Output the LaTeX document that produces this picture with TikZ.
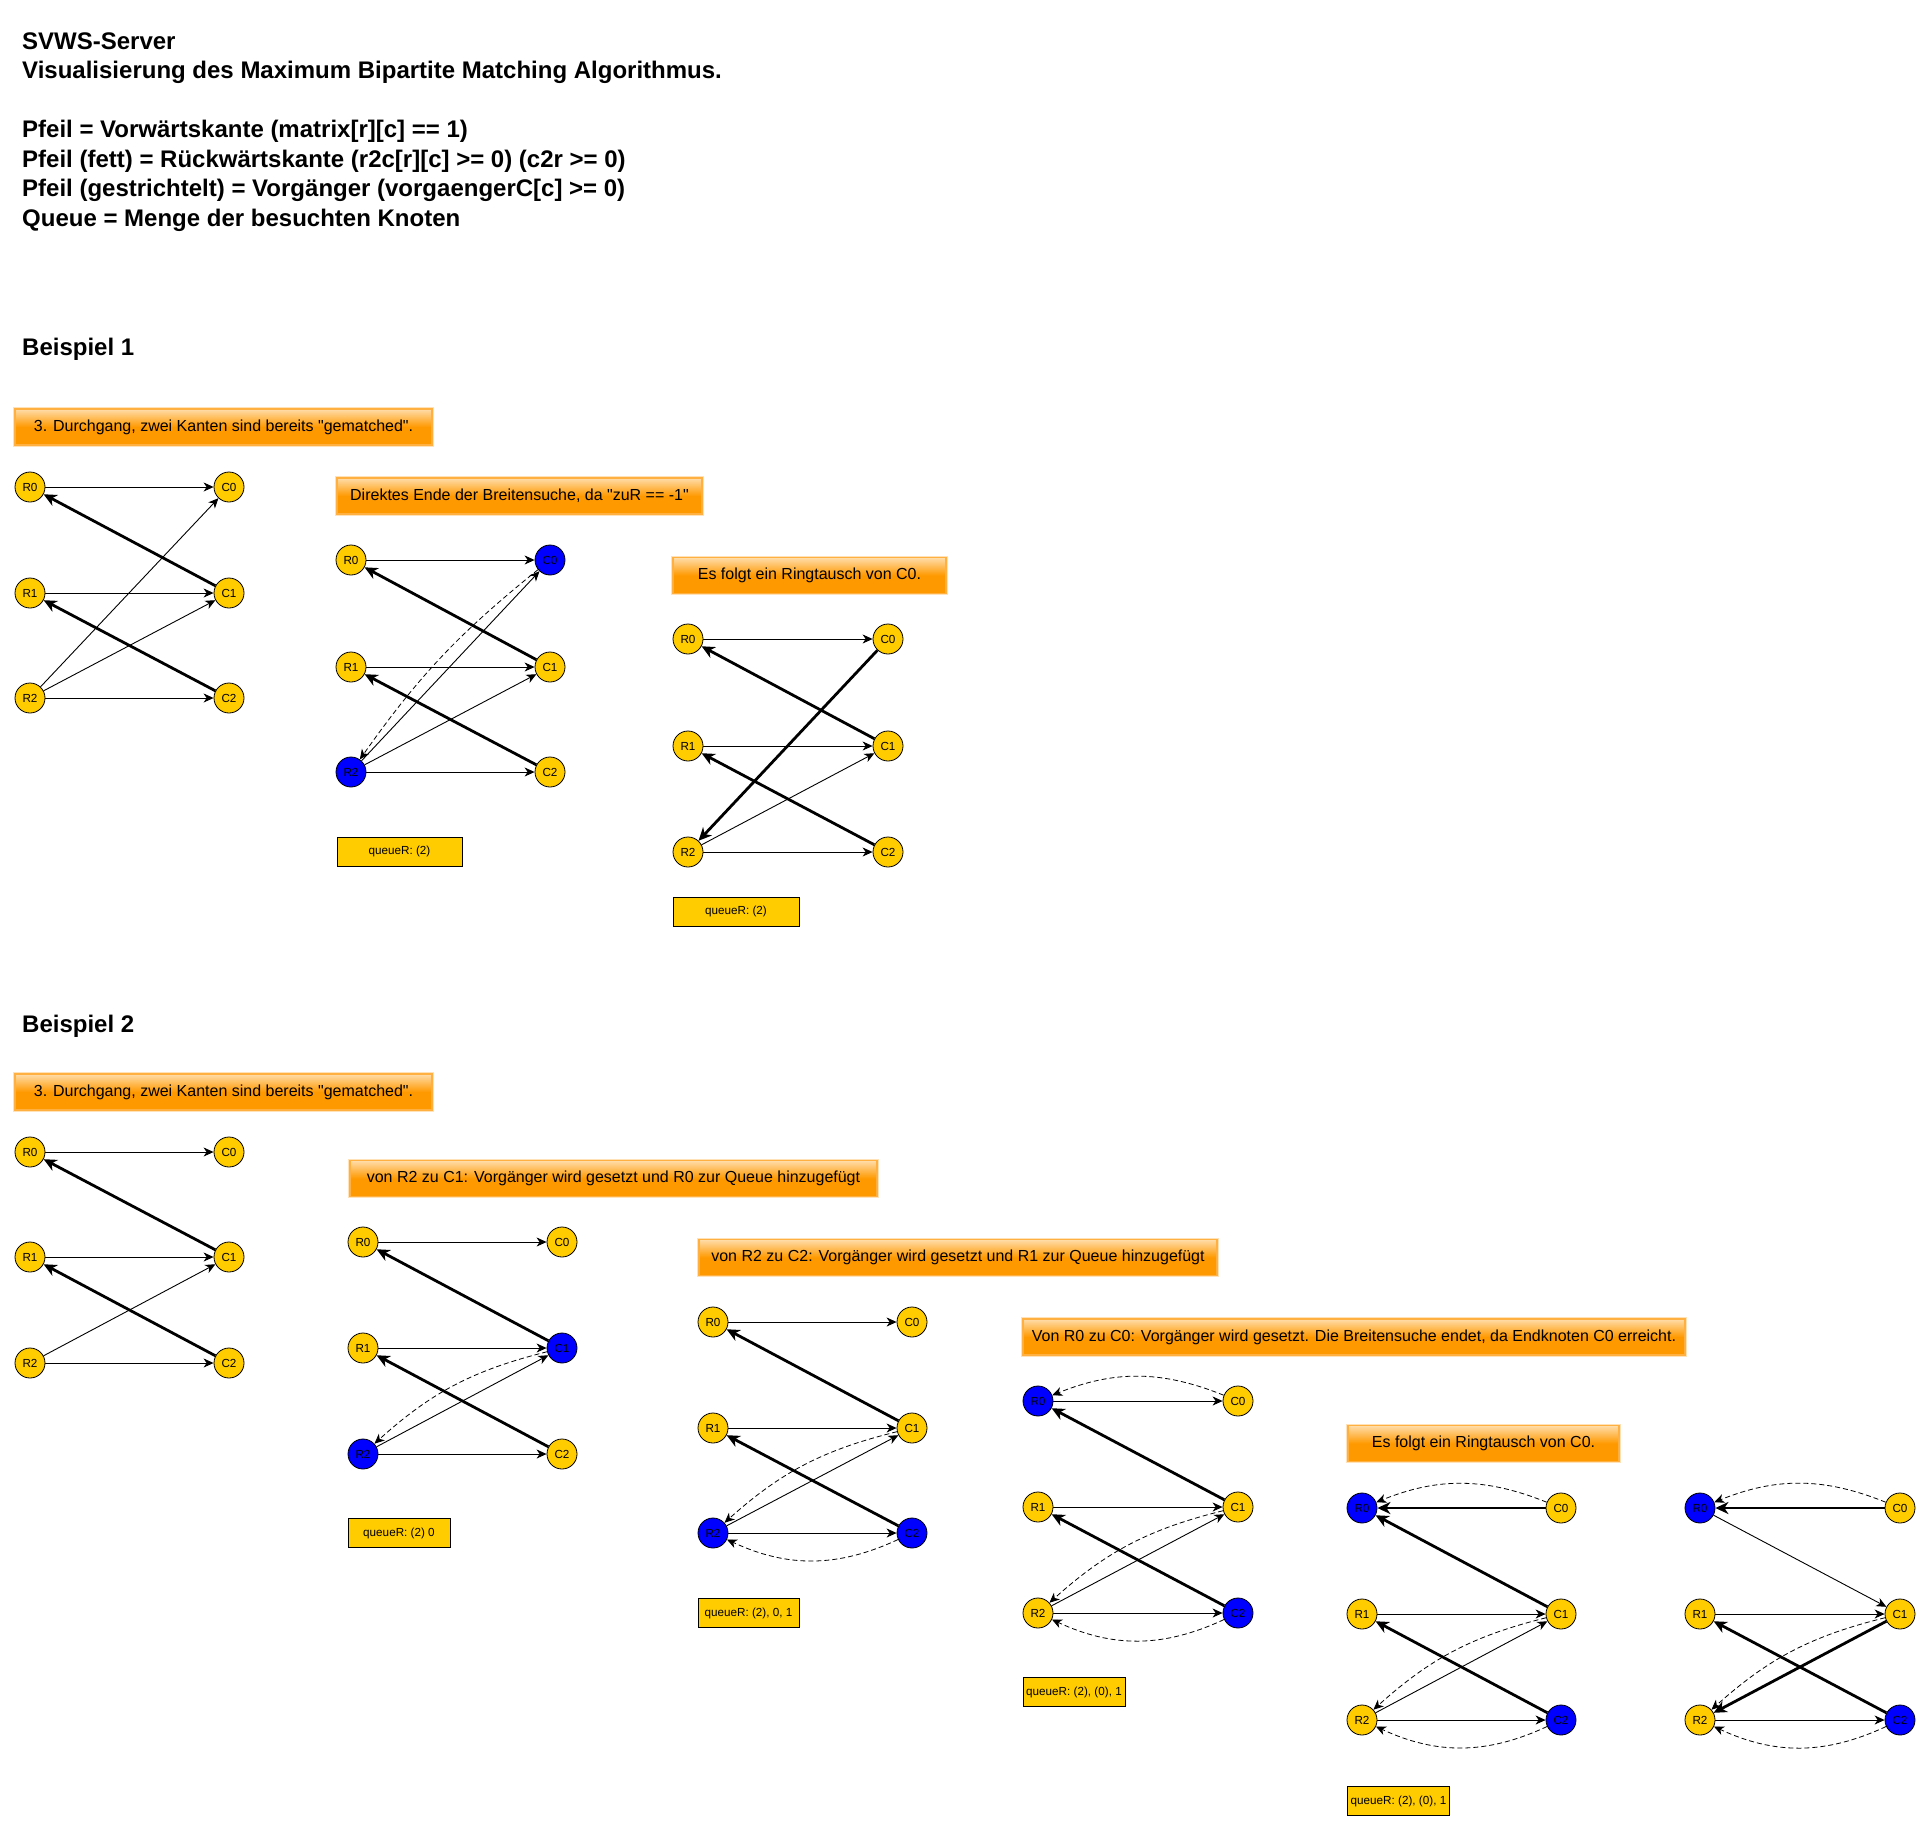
\documentclass[tikz,border=0pt]{standalone}
\usepackage{fontspec}
\setmainfont{Liberation Sans}[Ligatures=TeXOff]
\usetikzlibrary{arrows.meta}
\definecolor{gold}{HTML}{FFCC00}
\definecolor{hitblue}{HTML}{0000FF}
\definecolor{bannertop}{HTML}{FFDDAA}
\definecolor{bannerbot}{HTML}{FF9900}
\definecolor{bannerline}{HTML}{FFB040}
\definecolor{bannerglow}{HTML}{FFE2B8}
\begin{document}
\begin{tikzpicture}[x=1pt,y=-1pt,>={Stealth[length=10pt,width=9pt,inset=3pt]},
  vtx/.style={circle,draw,line width=0.8pt,fill=gold,minimum size=30pt,inner sep=0pt,font=\fontsize{11.7}{12}\selectfont},
  hit/.style={vtx,fill=hitblue},
  fw/.style={->,line width=0.9pt},
  bw/.style={-{Stealth[length=13pt,width=12pt,inset=4pt]},line width=2.8pt},
  pre/.style={->,line width=0.8pt,dash pattern=on 5pt off 3pt},
  banner/.style={preaction={draw=bannerglow,line width=3.5pt},draw=bannerline,line width=1.2pt,top color=bannertop,bottom color=bannerbot,middle color=bannerbot,minimum height=36pt,inner sep=0pt,font=\fontsize{16}{16}\selectfont},
  queue/.style={draw,line width=1pt,fill=gold,minimum height=29pt,inner sep=0pt,font=\fontsize{11.7}{12}\selectfont},
  title/.style={anchor=base west,inner sep=0pt,font=\fontsize{24}{29.5}\selectfont\bfseries}]
\useasboundingbox (0,0) rectangle (1928,1829);
% Kopf (Grundlinie der letzten Zeile)
\node (kopf) at (22,226) [title,align=left] {SVWS-Server\\Visualisierung des Maximum Bipartite Matching Algorithmus.\\[29.5pt]Pfeil = Vorwärtskante (matrix[r][c] == 1)\\Pfeil (fett) = Rückwärtskante (r2c[r][c] >= 0) (c2r >= 0)\\Pfeil (gestrichtelt) = Vorgänger (vorgaengerC[c] >= 0)\\Queue = Menge der besuchten Knoten};

% Beispiel 1
\node (bsp1) at (22,355) [title] {Beispiel 1};

\node (b1a-text) at (223.5,427) [banner,minimum width=417pt] {3. Durchgang, zwei Kanten sind bereits "gematched".};
\node (b1a-R0) at (30,487) [vtx] {R0}; \node (b1a-C0) at (229,487) [vtx] {C0};
\node (b1a-R1) at (30,593) [vtx] {R1}; \node (b1a-C1) at (229,593) [vtx] {C1};
\node (b1a-R2) at (30,698) [vtx] {R2}; \node (b1a-C2) at (229,698) [vtx] {C2};
\draw[fw] (b1a-R0) -- (b1a-C0);
\draw[bw] (b1a-C1) -- (b1a-R0);
\draw[fw] (b1a-R1) -- (b1a-C1);
\draw[bw] (b1a-C2) -- (b1a-R1);
\draw[fw] (b1a-R2) -- (b1a-C0);
\draw[fw] (b1a-R2) -- (b1a-C1);
\draw[fw] (b1a-R2) -- (b1a-C2);

\node (b1b-text) at (519.5,496) [banner,minimum width=365pt] {Direktes Ende der Breitensuche, da "zuR == -1"};
\node (b1b-R0) at (351,560) [vtx] {R0}; \node (b1b-C0) at (550,560) [hit] {C0};
\node (b1b-R1) at (351,667) [vtx] {R1}; \node (b1b-C1) at (550,667) [vtx] {C1};
\node (b1b-R2) at (351,772) [hit] {R2}; \node (b1b-C2) at (550,772) [vtx] {C2};
\draw[fw] (b1b-R0) -- (b1b-C0);
\draw[bw] (b1b-C1) -- (b1b-R0);
\draw[fw] (b1b-R1) -- (b1b-C1);
\draw[bw] (b1b-C2) -- (b1b-R1);
\draw[fw] (b1b-R2) -- (b1b-C0);
\draw[fw] (b1b-R2) -- (b1b-C1);
\draw[fw] (b1b-R2) -- (b1b-C2);
\draw[pre] (b1b-C0) to[bend right=8] (b1b-R2);
\node (b1b-queue) at (399.5,851.5) [queue,minimum width=125pt] {queueR: (2)};

\node (b1c-text) at (809.5,575.5) [banner,minimum width=273pt] {Es folgt ein Ringtausch von C0.};
\node (b1c-R0) at (688,639) [vtx] {R0}; \node (b1c-C0) at (888,639) [vtx] {C0};
\node (b1c-R1) at (688,746) [vtx] {R1}; \node (b1c-C1) at (888,746) [vtx] {C1};
\node (b1c-R2) at (688,852) [vtx] {R2}; \node (b1c-C2) at (888,852) [vtx] {C2};
\draw[fw] (b1c-R0) -- (b1c-C0);
\draw[bw] (b1c-C1) -- (b1c-R0);
\draw[bw] (b1c-C0) -- (b1c-R2);
\draw[fw] (b1c-R1) -- (b1c-C1);
\draw[bw] (b1c-C2) -- (b1c-R1);
\draw[fw] (b1c-R2) -- (b1c-C1);
\draw[fw] (b1c-R2) -- (b1c-C2);
\node (b1c-queue) at (736,911.5) [queue,minimum width=126pt] {queueR: (2)};

% Beispiel 2
\node (bsp2) at (22,1032) [title] {Beispiel 2};

\node (b2a-text) at (223.5,1092) [banner,minimum width=417pt] {3. Durchgang, zwei Kanten sind bereits "gematched".};
\node (b2a-R0) at (30,1152) [vtx] {R0}; \node (b2a-C0) at (229,1152) [vtx] {C0};
\node (b2a-R1) at (30,1257) [vtx] {R1}; \node (b2a-C1) at (229,1257) [vtx] {C1};
\node (b2a-R2) at (30,1363) [vtx] {R2}; \node (b2a-C2) at (229,1363) [vtx] {C2};
\draw[fw] (b2a-R0) -- (b2a-C0);
\draw[bw] (b2a-C1) -- (b2a-R0);
\draw[fw] (b2a-R1) -- (b2a-C1);
\draw[bw] (b2a-C2) -- (b2a-R1);
\draw[fw] (b2a-R2) -- (b2a-C1);
\draw[fw] (b2a-R2) -- (b2a-C2);

\node (b2b-text) at (613.5,1178.5) [banner,minimum width=527pt] {von R2 zu C1: Vorgänger wird gesetzt und R0 zur Queue hinzugefügt};
\node (b2b-R0) at (363,1242) [vtx] {R0}; \node (b2b-C0) at (562,1242) [vtx] {C0};
\node (b2b-R1) at (363,1348) [vtx] {R1}; \node (b2b-C1) at (562,1348) [hit] {C1};
\node (b2b-R2) at (363,1454) [hit] {R2}; \node (b2b-C2) at (562,1454) [vtx] {C2};
\draw[fw] (b2b-R0) -- (b2b-C0);
\draw[bw] (b2b-C1) -- (b2b-R0);
\draw[fw] (b2b-R1) -- (b2b-C1);
\draw[bw] (b2b-C2) -- (b2b-R1);
\draw[fw] (b2b-R2) -- (b2b-C1);
\draw[fw] (b2b-R2) -- (b2b-C2);
\draw[pre] (b2b-C1) to[bend right=14] (b2b-R2);
\node (b2b-queue) at (399,1533) [queue,minimum width=102pt] {queueR: (2) 0};

\node (b2c-text) at (958,1257.5) [banner,minimum width=518pt] {von R2 zu C2: Vorgänger wird gesetzt und R1 zur Queue hinzugefügt};
\node (b2c-R0) at (713,1322) [vtx] {R0}; \node (b2c-C0) at (912,1322) [vtx] {C0};
\node (b2c-R1) at (713,1428) [vtx] {R1}; \node (b2c-C1) at (912,1428) [vtx] {C1};
\node (b2c-R2) at (713,1533) [hit] {R2}; \node (b2c-C2) at (912,1533) [hit] {C2};
\draw[fw] (b2c-R0) -- (b2c-C0);
\draw[bw] (b2c-C1) -- (b2c-R0);
\draw[fw] (b2c-R1) -- (b2c-C1);
\draw[bw] (b2c-C2) -- (b2c-R1);
\draw[fw] (b2c-R2) -- (b2c-C1);
\draw[fw] (b2c-R2) -- (b2c-C2);
\draw[pre] (b2c-C1) to[bend right=14] (b2c-R2);
\draw[pre] (b2c-C2) to[bend left=25] (b2c-R2);
\node (b2c-queue) at (748.5,1613) [queue,minimum width=101pt] {queueR: (2), 0, 1};

\node (b2d-text) at (1354,1337) [banner,minimum width=662pt] {Von R0 zu C0: Vorgänger wird gesetzt. Die Breitensuche endet, da Endknoten C0 erreicht.};
\node (b2d-R0) at (1038,1401) [hit] {R0}; \node (b2d-C0) at (1238,1401) [vtx] {C0};
\node (b2d-R1) at (1038,1507) [vtx] {R1}; \node (b2d-C1) at (1238,1507) [vtx] {C1};
\node (b2d-R2) at (1038,1613) [vtx] {R2}; \node (b2d-C2) at (1238,1613) [hit] {C2};
\draw[fw] (b2d-R0) -- (b2d-C0);
\draw[pre] (b2d-C0) to[bend right=22] (b2d-R0);
\draw[bw] (b2d-C1) -- (b2d-R0);
\draw[fw] (b2d-R1) -- (b2d-C1);
\draw[bw] (b2d-C2) -- (b2d-R1);
\draw[fw] (b2d-R2) -- (b2d-C1);
\draw[pre] (b2d-C1) to[bend right=14] (b2d-R2);
\draw[fw] (b2d-R2) -- (b2d-C2);
\draw[pre] (b2d-C2) to[bend left=25] (b2d-R2);
\node (b2d-queue) at (1074,1692) [queue,minimum width=102pt] {queueR: (2), (0), 1};

\node (b2e-text) at (1483.5,1443.5) [banner,minimum width=271pt] {Es folgt ein Ringtausch von C0.};
\node (b2e-R0) at (1362,1508) [hit] {R0}; \node (b2e-C0) at (1561,1508) [vtx] {C0};
\node (b2e-R1) at (1362,1614) [vtx] {R1}; \node (b2e-C1) at (1561,1614) [vtx] {C1};
\node (b2e-R2) at (1362,1720) [vtx] {R2}; \node (b2e-C2) at (1561,1720) [hit] {C2};
\draw[bw] (b2e-C0) -- (b2e-R0);
\draw[pre] (b2e-C0) to[bend right=22] (b2e-R0);
\draw[bw] (b2e-C1) -- (b2e-R0);
\draw[fw] (b2e-R1) -- (b2e-C1);
\draw[bw] (b2e-C2) -- (b2e-R1);
\draw[fw] (b2e-R2) -- (b2e-C1);
\draw[pre] (b2e-C1) to[bend right=14] (b2e-R2);
\draw[fw] (b2e-R2) -- (b2e-C2);
\draw[pre] (b2e-C2) to[bend left=25] (b2e-R2);
\node (b2e-queue) at (1398.5,1801) [queue,minimum width=102pt] {queueR: (2), (0), 1};

\node (b2f-R0) at (1700,1508) [hit] {R0}; \node (b2f-C0) at (1900,1508) [vtx] {C0};
\node (b2f-R1) at (1700,1614) [vtx] {R1}; \node (b2f-C1) at (1900,1614) [vtx] {C1};
\node (b2f-R2) at (1700,1720) [vtx] {R2}; \node (b2f-C2) at (1900,1720) [hit] {C2};
\draw[bw] (b2f-C0) -- (b2f-R0);
\draw[pre] (b2f-C0) to[bend right=22] (b2f-R0);
\draw[fw] (b2f-R0) -- (b2f-C1);
\draw[fw] (b2f-R1) -- (b2f-C1);
\draw[bw] (b2f-C2) -- (b2f-R1);
\draw[bw] (b2f-C1) -- (b2f-R2);
\draw[pre] (b2f-C1) to[bend right=14] (b2f-R2);
\draw[fw] (b2f-R2) -- (b2f-C2);
\draw[pre] (b2f-C2) to[bend left=25] (b2f-R2);
\end{tikzpicture}
\end{document}
